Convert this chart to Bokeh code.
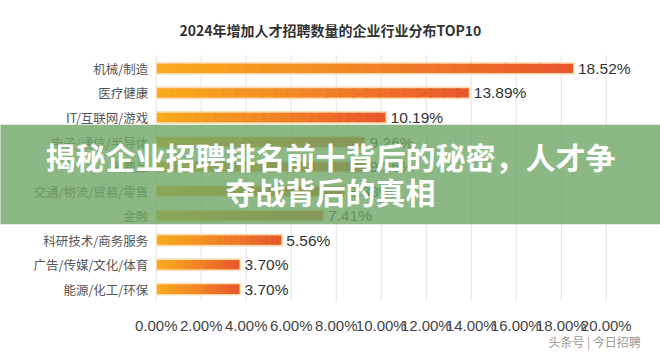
from bokeh.plotting import figure
from bokeh.models import (Range1d, FixedTicker, BoxAnnotation, Label,
                          ColumnDataSource)
from bokeh.core.properties import value
from bokeh.embed import file_html
from bokeh.resources import INLINE

title_text = "2024年增加人才招聘数量的企业行业分布TOP10"
banner_line1 = "揭秘企业招聘排名前十背后的秘密，人才争"
banner_line2 = "夺战背后的真相"
watermark = "头条号 | 今日招聘"

categories = ["机械/制造", "医疗健康", "IT/互联网/游戏", "电子/通信/半导体", "消费品",
              "交通/物流/贸易/零售", "金融", "科研技术/商务服务", "广告/传媒/文化/体育",
              "能源/化工/环保"]
values = [18.52, 13.89, 10.19, 9.26, 9.26, 8.33, 7.41, 5.56, 3.70, 3.70]
x_ticks = [0, 2, 4, 6, 8, 10, 12, 14, 16, 18, 20]
x_tick_labels = ["0.00%", "2.00%", "4.00%", "6.00%", "8.00%", "10.00%", "12.00%",
                 "14.00%", "16.00%", "18.00%", "20.00%"]

CJK = "Noto Sans CJK SC"
LAT = "Liberation Sans"

rows = list(range(len(categories)))

# frame spans the full width and the full height above the x axis;
# 0% sits at ~156px and 20% at ~606px, rows are ~25.3px apart
p = figure(width=660, height=352, x_range=Range1d(-6.92, 22.41),
           y_range=Range1d(9.5, -2.767),
           min_border_left=0, min_border_right=0, min_border_top=0,
           min_border_bottom=42, toolbar_location=None, output_backend="svg")
p.outline_line_color = None
p.background_fill_color = "white"
p.border_fill_color = "white"
p.yaxis.visible = False
p.xgrid.grid_line_color = None
p.ygrid.grid_line_color = None

# vertical grid lines at the tick positions (only over the plot body)
p.segment(x0=x_ticks, x1=x_ticks, y0=[-0.55] * len(x_ticks), y1=[9.5] * len(x_ticks),
          line_color="#e3e3e3", line_width=1)

# x axis
p.xaxis.ticker = FixedTicker(ticks=x_ticks)
p.xaxis.major_label_overrides = {t: l for t, l in zip(x_ticks, x_tick_labels)}
p.xaxis.axis_line_color = None
p.xaxis.major_tick_line_color = None
p.xaxis.minor_tick_line_color = None
p.xaxis.major_label_standoff = 9
p.xaxis.major_label_text_font = LAT
p.xaxis.major_label_text_font_size = "15px"
p.xaxis.major_label_text_color = "#444444"
# watermark as the (centred) axis label, pushed right with ideographic spaces
p.xaxis.axis_label = "\u3000" * 44 + watermark
p.xaxis.axis_label_text_font = CJK
p.xaxis.axis_label_text_font_size = "12px"
p.xaxis.axis_label_text_font_style = "normal"
p.xaxis.axis_label_text_color = "#9a9a9a"
p.xaxis.axis_label_standoff = -4

# title
p.add_layout(Label(x=7.74, y=-1.58, text=title_text, text_align="center",
                   text_baseline="middle", text_font=CJK, text_font_size="14px",
                   text_font_style="bold", text_color="#333333"))

# category labels
csrc = ColumnDataSource(dict(x=[0] * len(rows), y=rows, t=categories))
p.text(x="x", y="y", text="t", source=csrc, x_offset=-8, text_align="right",
       text_baseline="middle", text_font=value(CJK), text_font_size="12.5px",
       text_color="#555555")

# bars: pale outline then gradient slices
p.hbar(y=rows, left=0, right=[v + 0.07 for v in values], height=0.52,
       fill_color="#fddcb5", line_color=None)

def lerp(c1, c2, t):
    a = [int(c1[i:i + 2], 16) for i in (1, 3, 5)]
    b = [int(c2[i:i + 2], 16) for i in (1, 3, 5)]
    return "#%02x%02x%02x" % tuple(round(a[k] + (b[k] - a[k]) * t) for k in range(3))

N = 24
sl_y, sl_l, sl_r, sl_c = [], [], [], []
for r, v in zip(rows, values):
    for k in range(N):
        t = k / (N - 1)
        sl_y.append(r)
        sl_l.append(0.03 + (v - 0.03) * k / N)
        sl_r.append(v if k == N - 1 else 0.03 + (v - 0.03) * (k + 1) / N + 0.12)
        if t < 0.5:
            sl_c.append(lerp("#f8aa1c", "#f18425", t / 0.5))
        else:
            sl_c.append(lerp("#f18425", "#e9582b", (t - 0.5) / 0.5))
p.hbar(y=sl_y, left=sl_l, right=sl_r, height=0.38, fill_color=sl_c, line_color=None)

# value labels
src = ColumnDataSource(dict(x=values, y=rows, t=[f"{v:.2f}%" for v in values]))
p.text(x="x", y="y", text="t", source=src, x_offset=5, text_baseline="middle",
       text_font=value(LAT), text_font_size="15.5px", text_color="#333333")

# green banner overlay
p.add_layout(BoxAnnotation(left=-8, right=24, top=2.3, bottom=6.35,
                           fill_color="#6ea665", fill_alpha=0.8, line_color=None,
                           level="overlay"))
p.add_layout(Label(x=7.74, y=3.55, text=banner_line1, text_align="center",
                   text_baseline="middle", text_font=CJK, text_font_size="30px",
                   text_font_style="bold", text_color="white", level="overlay"))
p.add_layout(Label(x=7.74, y=4.98, text=banner_line2, text_align="center",
                   text_baseline="middle", text_font=CJK, text_font_size="30px",
                   text_font_style="bold", text_color="white", level="overlay"))

open("out.html", "w").write(file_html(p, INLINE))
